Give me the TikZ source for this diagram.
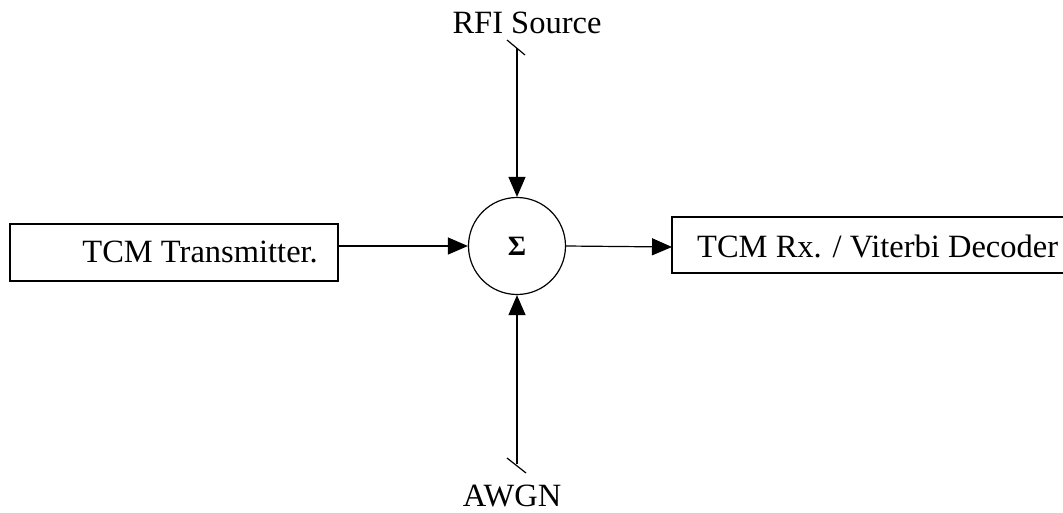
\documentclass[tikz,border=0pt]{standalone}
\usepackage{fontspec}
\setmainfont{Liberation Serif}
\usetikzlibrary{arrows.meta}
\tikzset{
  lbl/.style={font=\fontsize{32.5}{36}\selectfont, inner sep=0pt},
  block/.style={draw, line width=1.2pt},
  sumnode/.style={draw, circle, line width=1.2pt, minimum size=97pt, inner sep=0pt,
    font=\fontsize{28}{30}\selectfont\bfseries},
  sig/.style={line width=1.2pt, -{Triangle[length=20pt,width=17pt]}},
  tick/.style={line width=1.2pt}
}
\begin{document}
\begin{tikzpicture}[x=1pt,y=-1pt]
\useasboundingbox (0,0) rectangle (1063,512);
% blocks
\node[block, minimum width=328pt, minimum height=57pt, inner sep=0pt] (tx) at (174,252.5) {};
\node[lbl, anchor=east] (txt) at (318,252) {TCM Transmitter.};
\draw[block] (1075,217) -| (672,273) -- (1075,273);
\coordinate (rxin) at (672,247);
\node[lbl, anchor=west] (rxt) at (697,246) {TCM Rx. / Viterbi Decoder};
% summing junction
\node[sumnode] (sum) at (517,246) {Σ};
% noise inputs
\node[lbl, anchor=base] (rfi) at (527,33) {RFI Source};
\node[lbl, anchor=base] (awgn) at (512,506) {AWGN};
\coordinate (rfiend) at (517,48);
\coordinate (awgnend) at (517,464);
% connectors
\draw[sig] (tx.east |- sum.west) -- (sum.west);
\draw[sig] (sum.east) -- (rxin);
\draw[sig] (rfiend) -- (sum.north);
\draw[sig] (awgnend) -- (sum.south);
% break marks on the open ends
\draw[tick] ([shift={(-10,-8)}]rfiend) -- ([shift={(8,7)}]rfiend);
\draw[tick] ([shift={(-10,-6)}]awgnend) -- ([shift={(9,9)}]awgnend);
\end{tikzpicture}
\end{document}
